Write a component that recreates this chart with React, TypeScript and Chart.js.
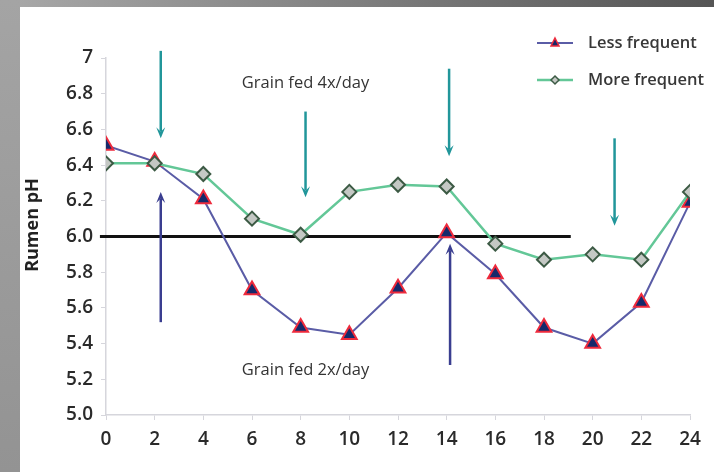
import React, { useEffect, useRef } from "react";
import { Chart, registerables } from "chart.js";

Chart.register(...registerables);

// ---- data ----
const hours = [0, 2, 4, 6, 8, 10, 12, 14, 16, 18, 20, 22, 24];
const lessFrequent = [6.51, 6.42, 6.21, 5.7, 5.49, 5.45, 5.71, 6.02, 5.79, 5.49, 5.4, 5.63, 6.19];
const moreFrequent = [6.41, 6.41, 6.35, 6.1, 6.01, 6.25, 6.29, 6.28, 5.96, 5.87, 5.9, 5.87, 6.25];
const seriesNames = ["Less frequent", "More frequent"];
const yAxisTitle = "Rumen pH";
const yTickMin = 5.0;
const yTickMax = 7.0;
const yTickStep = 0.2;
const xTickStep = 2;

// threshold line
const thresholdPH = 6.0;
const thresholdFrom = -0.25;
const thresholdTo = 19.1;

// feeding annotations (hour, arrow start pH, arrow tip pH)
const feed4xHours = [2.25, 8.2, 14.1, 20.9];
const feed4xStart = [7.04, 6.7, 6.94, 6.55];
const feed4xTip = [6.55, 6.22, 6.45, 6.06];
const feed2xHours = [2.25, 14.14];
const feed2xStart = [5.52, 5.28];
const feed2xTip = [6.25, 5.96];
const label4x = "Grain fed 4x/day";
const label4xPos = [8.2, 6.86];
const label2x = "Grain fed 2x/day";
const label2xPos = [8.2, 5.25];

const FONT = "'Open Sans', 'Noto Sans', sans-serif";
const LESS_LINE = "#5a5ca6";
const LESS_FILL = "#15296b";
const LESS_BORDER = "#ee2a3c";
const MORE_LINE = "#63c797";
const MORE_FILL = "#c4c8c4";
const MORE_BORDER = "#3c5a44";
const TEAL = "#21969a";
const NAVY = "#3a3e90";

function drawArrow(ctx: CanvasRenderingContext2D, x: number, y0: number, y1: number, color: string) {
  const dir = y1 > y0 ? 1 : -1;
  const head = 11;
  ctx.save();
  ctx.strokeStyle = color;
  ctx.fillStyle = color;
  ctx.lineWidth = 2.5;
  ctx.beginPath();
  ctx.moveTo(x, y0);
  ctx.lineTo(x, y1 - dir * head * 0.6);
  ctx.stroke();
  ctx.beginPath();
  ctx.moveTo(x, y1);
  ctx.lineTo(x - 4.5, y1 - dir * head);
  ctx.lineTo(x, y1 - dir * head * 0.6);
  ctx.lineTo(x + 4.5, y1 - dir * head);
  ctx.closePath();
  ctx.fill();
  ctx.restore();
}

const decorPlugin = {
  id: "decor",
  beforeDraw(chart: any) {
    const { ctx, width, height } = chart;
    ctx.save();
    ctx.fillStyle = "#ffffff";
    ctx.fillRect(0, 0, width, height);
    const g = ctx.createLinearGradient(0, 0, width, 0);
    g.addColorStop(0, "#a9a9a9");
    g.addColorStop(1, "#555555");
    ctx.fillStyle = g;
    ctx.fillRect(0, 0, width, 7);
    const gl = ctx.createLinearGradient(0, 0, 0, height);
    gl.addColorStop(0, "#a4a4a4");
    gl.addColorStop(1, "#939393");
    ctx.fillStyle = gl;
    ctx.fillRect(0, 0, 20, height);
    ctx.restore();
  },
  beforeDatasetsDraw(chart: any) {
    const { ctx, scales } = chart;
    const xs = scales.x;
    const ys = scales.y;
    ctx.save();
    ctx.strokeStyle = "#111111";
    ctx.lineWidth = 3;
    ctx.beginPath();
    const y = ys.getPixelForValue(thresholdPH);
    ctx.moveTo(xs.getPixelForValue(thresholdFrom), y);
    ctx.lineTo(xs.getPixelForValue(thresholdTo), y);
    ctx.stroke();
    ctx.restore();
  },
  afterDatasetsDraw(chart: any) {
    const { ctx, scales, width } = chart;
    const xs = scales.x;
    const ys = scales.y;
    feed4xHours.forEach((h, i) => {
      drawArrow(ctx, xs.getPixelForValue(h), ys.getPixelForValue(feed4xStart[i]), ys.getPixelForValue(feed4xTip[i]), TEAL);
    });
    feed2xHours.forEach((h, i) => {
      drawArrow(ctx, xs.getPixelForValue(h), ys.getPixelForValue(feed2xStart[i]), ys.getPixelForValue(feed2xTip[i]), NAVY);
    });
    ctx.save();
    ctx.fillStyle = "#333333";
    ctx.font = `16.5px ${FONT}`;
    ctx.textAlign = "center";
    ctx.textBaseline = "middle";
    ctx.fillText(label4x, xs.getPixelForValue(label4xPos[0]), ys.getPixelForValue(label4xPos[1]));
    ctx.fillText(label2x, xs.getPixelForValue(label2xPos[0]), ys.getPixelForValue(label2xPos[1]));

    // y axis title
    ctx.save();
    ctx.translate(33, 225);
    ctx.rotate(-Math.PI / 2);
    ctx.fillStyle = "#222222";
    ctx.font = `bold 18px ${FONT}`;
    ctx.fillText(yAxisTitle, 0, 0);
    ctx.restore();

    // legend
    const lx = width - 177;
    const rows = [43, 80];
    chart.data.datasets.forEach((ds: any, i: number) => {
      const yy = rows[i];
      ctx.strokeStyle = ds.borderColor;
      ctx.lineWidth = ds.borderWidth;
      ctx.beginPath();
      ctx.moveTo(lx, yy);
      ctx.lineTo(lx + 36, yy);
      ctx.stroke();
      ctx.fillStyle = ds.pointBackgroundColor;
      ctx.strokeStyle = ds.pointBorderColor;
      ctx.lineWidth = 1.5;
      ctx.beginPath();
      if (ds.pointStyle === "triangle") {
        ctx.moveTo(lx + 18, yy - 5);
        ctx.lineTo(lx + 22, yy + 3);
        ctx.lineTo(lx + 14, yy + 3);
      } else {
        ctx.moveTo(lx + 18, yy - 4);
        ctx.lineTo(lx + 22, yy);
        ctx.lineTo(lx + 18, yy + 4);
        ctx.lineTo(lx + 14, yy);
      }
      ctx.closePath();
      ctx.fill();
      ctx.stroke();
      ctx.fillStyle = "#383838";
      ctx.font = `600 16.5px ${FONT}`;
      ctx.textAlign = "left";
      ctx.textBaseline = "middle";
      ctx.fillText(ds.label, lx + 51, yy);
    });
    ctx.restore();
  },
};

export default function App() {
  const ref = useRef<HTMLCanvasElement | null>(null);
  useEffect(() => {
    if (!ref.current) return;
    const chart = new Chart(ref.current, {
      type: "line",
      data: {
        datasets: [
          {
            label: seriesNames[0],
            data: hours.map((h, i) => ({ x: h, y: lessFrequent[i] })),
            borderColor: LESS_LINE,
            borderWidth: 2,
            pointStyle: "triangle",
            pointRadius: 8.5,
            pointBackgroundColor: LESS_FILL,
            pointBorderColor: LESS_BORDER,
            pointBorderWidth: 2,
            order: 1,
          },
          {
            label: seriesNames[1],
            data: hours.map((h, i) => ({ x: h, y: moreFrequent[i] })),
            borderColor: MORE_LINE,
            borderWidth: 2.5,
            pointStyle: "rectRot",
            pointRadius: 7,
            pointBackgroundColor: MORE_FILL,
            pointBorderColor: MORE_BORDER,
            pointBorderWidth: 2,
            order: 0,
          },
        ],
      },
      options: {
        animation: false,
        responsive: true,
        maintainAspectRatio: false,
        layout: { padding: { left: 20, top: 58, right: 24, bottom: 0 } },
        plugins: { legend: { display: false }, tooltip: { enabled: false } },
        scales: {
          x: {
            type: "linear",
            min: 0,
            max: 24,
            afterFit: (s: any) => {
              s.height = 57;
            },
            grid: { drawOnChartArea: false, drawTicks: true, tickLength: 5, color: "#d6d6dc" },
            border: { color: "#d6d6dc", width: 1.5 },
            ticks: {
              stepSize: xTickStep,
              padding: 8,
              color: "#2a2a2a",
              font: { family: FONT, size: 19, weight: 600 },
            },
          },
          y: {
            type: "linear",
            min: yTickMin,
            max: yTickMax,
            afterFit: (s: any) => {
              s.width = 86;
            },
            grid: { drawOnChartArea: false, drawTicks: true, tickLength: 5, color: "#d6d6dc" },
            border: { color: "#d6d6dc", width: 1.5 },
            ticks: {
              stepSize: yTickStep,
              padding: 8,
              color: "#2a2a2a",
              font: { family: FONT, size: 19, weight: 600 },
              callback: (v: any) => {
                const n = Number(v);
                return Math.abs(n - 7) < 1e-6 ? "7" : n.toFixed(1);
              },
            },
          },
        },
      },
      plugins: [decorPlugin],
    });
    return () => chart.destroy();
  }, []);
  return (
    <div style={{ position: "absolute", left: 0, top: 0, width: 714, height: 472 }}>
      <canvas ref={ref} />
    </div>
  );
}
